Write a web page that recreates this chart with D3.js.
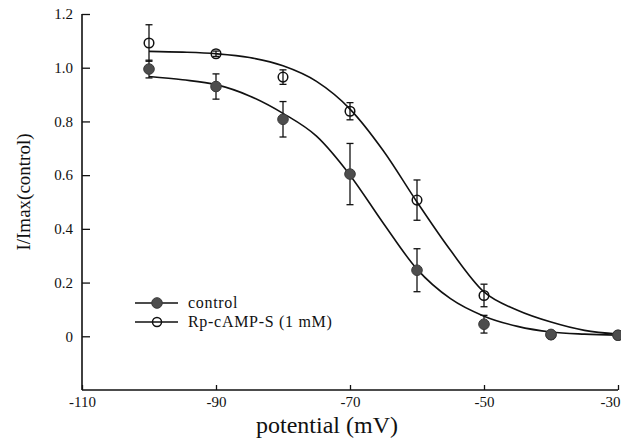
<!DOCTYPE html>
<html>
<head>
<meta charset="utf-8">
<script src="https://cdn.jsdelivr.net/npm/d3@7"></script>
<style>
  html, body { margin: 0; padding: 0; background: #fff; }
  svg { display: block; }
  text { font-family: "Liberation Serif", "Times New Roman", serif; fill: #111; }
</style>
</head>
<body>
<svg id="chart" width="621" height="443"></svg>
<script>
// ---- data ----
const voltages = [-100, -90, -80, -70, -60, -50, -40, -30];
const controlMean = [0.995, 0.93, 0.808, 0.604, 0.246, 0.045, 0.007, 0.004];
const controlErr  = [0.033, 0.047, 0.066, 0.114, 0.080, 0.033, 0, 0];
const rpMean = [1.092, 1.052, 0.965, 0.838, 0.507, 0.152, 0.005, 0.004];
const rpErr  = [0.068, 0.010, 0.027, 0.032, 0.075, 0.042, 0, 0];

// fitted curves
const fitV = [-100, -95, -90, -85, -80, -75, -70, -65, -60, -55, -50, -45, -40, -35, -30];
const controlFit = [0.967, 0.955, 0.937, 0.895, 0.83, 0.745, 0.60, 0.42, 0.25, 0.14, 0.075, 0.037, 0.016, 0.008, 0.004];
const rpFit = [1.061, 1.058, 1.052, 1.038, 1.007, 0.949, 0.846, 0.69, 0.50, 0.32, 0.165, 0.097, 0.053, 0.022, 0.008];

const xTicks = [-110, -90, -70, -50, -30];
const yTicks = [0, 0.2, 0.4, 0.6, 0.8, 1.0, 1.2];
const seriesNames = ["control", "Rp-cAMP-S (1 mM)"];
const xTitle = "potential (mV)";
const yTitle = "I/Imax(control)";

// ---- layout ----
const svg = d3.select("#chart");
const x = d3.scaleLinear().domain([-110, -30]).range([82, 618]);
const y = d3.scaleLinear().domain([-0.2, 1.2]).range([390, 14]);

// axes
const xAxis = d3.axisBottom(x).tickValues(xTicks).tickSize(-5).tickPadding(6)
  .tickFormat(d => String(d));
const yAxis = d3.axisLeft(y).tickValues(yTicks).tickSize(-8).tickPadding(9)
  .tickFormat(d => d === 0 ? "0" : d3.format(".1f")(d));

const gx = svg.append("g").attr("transform", `translate(0,${y(-0.2)})`).call(xAxis);
const gy = svg.append("g").attr("transform", `translate(${x(-110)},0)`).call(yAxis);
[gx, gy].forEach(g => {
  g.attr("font-family", null).attr("font-size", null);
  g.select(".domain").attr("stroke", "#111").attr("stroke-width", 1.6);
  g.selectAll(".tick line").attr("stroke", "#111").attr("stroke-width", 1.3);
  g.selectAll(".tick text").style("font-family", "Liberation Serif, serif").style("font-size", "15px").attr("fill", "#111");
});
gx.select(".domain").attr("d", `M${x(-110)},0H${x(-30)}`);
gy.select(".domain").attr("d", `M0,${y(-0.2)}V${y(1.2)}`);
// keep the last x label inside the picture
gx.selectAll(".tick text").filter(d => d === -30).attr("text-anchor", "end").attr("dx", 2);

// titles
svg.append("text").attr("x", 327).attr("y", 433)
  .attr("text-anchor", "middle").style("font-size", "24px").text(xTitle);
svg.append("text").attr("transform", `translate(30,192) rotate(-90)`)
  .attr("text-anchor", "middle").style("font-size", "19px").text(yTitle);

// fit lines
const line = d3.line().x(d => x(d[0])).y(d => y(d[1])).curve(d3.curveMonotoneX);
[controlFit, rpFit].forEach(arr => {
  svg.append("path").datum(fitV.map((v, i) => [v, arr[i]]))
    .attr("d", line).attr("fill", "none").attr("stroke", "#111").attr("stroke-width", 1.6);
});

// error bars + markers
function drawSeries(mean, err, filled) {
  const g = svg.append("g");
  const pts = voltages.map((v, i) => ({ v, m: mean[i], e: err[i] }));
  const eb = g.selectAll(".eb").data(pts.filter(d => d.e > 0)).enter().append("g");
  eb.append("line").attr("x1", d => x(d.v)).attr("x2", d => x(d.v))
    .attr("y1", d => y(d.m - d.e)).attr("y2", d => y(d.m + d.e))
    .attr("stroke", "#111").attr("stroke-width", 1.3);
  ["-", "+"].forEach(s => {
    eb.append("line").attr("x1", d => x(d.v) - 3.5).attr("x2", d => x(d.v) + 3.5)
      .attr("y1", d => y(s === "-" ? d.m - d.e : d.m + d.e))
      .attr("y2", d => y(s === "-" ? d.m - d.e : d.m + d.e))
      .attr("stroke", "#111").attr("stroke-width", 1.3);
  });
  g.selectAll("circle").data(pts).enter().append("circle")
    .attr("cx", d => x(d.v)).attr("cy", d => y(d.m)).attr("r", filled ? 5.3 : 4.8)
    .attr("fill", filled ? "#4d4d4d" : "none")
    .attr("stroke", filled ? "#3a3a3a" : "#111").attr("stroke-width", filled ? 1 : 1.5);
}
drawSeries(rpMean, rpErr, false);
drawSeries(controlMean, controlErr, true);

// legend
const legendY = [303, 322];
seriesNames.forEach((name, i) => {
  const g = svg.append("g");
  g.append("line").attr("x1", 135).attr("x2", 178).attr("y1", legendY[i]).attr("y2", legendY[i])
    .attr("stroke", "#111").attr("stroke-width", 1.6);
  g.append("circle").attr("cx", 157).attr("cy", legendY[i]).attr("r", i === 0 ? 5.3 : 4.5)
    .attr("fill", i === 0 ? "#4d4d4d" : "none")
    .attr("stroke", i === 0 ? "#3a3a3a" : "#111").attr("stroke-width", i === 0 ? 1 : 1.5);
  g.append("text").attr("x", 188).attr("y", legendY[i] + 5)
    .style("font-size", "16px").style("letter-spacing", "0.7px").text(name);
});
</script>
</body>
</html>
